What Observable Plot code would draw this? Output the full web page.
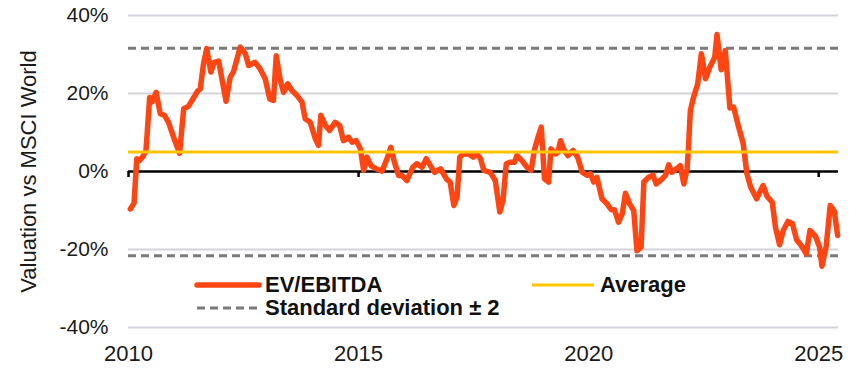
<!DOCTYPE html>
<html>
<head>
<meta charset="utf-8">
<script src="https://cdn.jsdelivr.net/npm/d3@7"></script>
<script src="https://cdn.jsdelivr.net/npm/@observablehq/plot@0.6"></script>
<style>
  body { margin: 0; background: #fff; }
  #wrap { position: relative; width: 865px; height: 373px; font-family: "Liberation Sans", Arial, sans-serif; }
  #legend { position: absolute; left: 0; top: 0; pointer-events: none; }
</style>
</head>
<body>
<div id="wrap"></div>
<script>
// ---- Data ----
const years = [
  2010.04,2010.12,2010.18,2010.24,2010.31,2010.38,2010.46,2010.51,2010.60,2010.69,2010.78,2010.87,2010.98,
  2011.11,2011.20,2011.30,2011.40,2011.50,2011.56,2011.63,2011.70,2011.79,2011.86,2011.96,
  2012.12,2012.21,2012.28,2012.43,2012.54,2012.61,2012.75,2012.86,2012.97,
  2013.07,2013.15,2013.21,2013.30,2013.37,2013.46,2013.55,2013.66,2013.77,2013.84,2013.95,
  2014.06,2014.13,2014.18,2014.28,2014.37,2014.49,2014.59,2014.67,2014.78,2014.86,2014.95,
  2015.04,2015.11,2015.18,2015.27,2015.38,2015.51,2015.62,2015.70,2015.78,2015.87,2015.94,
  2016.05,2016.18,2016.27,2016.38,2016.47,2016.56,2016.65,2016.78,2016.91,2016.99,
  2017.07,2017.14,2017.20,2017.28,2017.39,2017.49,2017.57,2017.65,2017.72,2017.86,2017.97,
  2018.07,2018.14,2018.21,2018.30,2018.39,2018.44,2018.55,2018.66,2018.75,2018.82,2018.89,2018.97,
  2019.04,2019.13,2019.18,2019.28,2019.33,2019.39,2019.47,2019.55,2019.66,2019.76,2019.86,2019.97,
  2020.04,2020.11,2020.18,2020.29,2020.40,2020.49,2020.56,2020.65,2020.73,2020.80,2020.89,2020.98,
  2021.05,2021.14,2021.20,2021.30,2021.40,2021.47,2021.56,2021.67,2021.74,2021.81,2021.91,2021.99,
  2022.07,2022.14,2022.17,2022.21,2022.28,2022.37,2022.45,2022.54,2022.63,2022.74,2022.79,2022.88,2022.97,
  2023.07,2023.15,2023.26,2023.36,2023.44,2023.52,2023.65,2023.79,2023.88,2023.99,
  2024.06,2024.15,2024.23,2024.33,2024.43,2024.52,2024.64,2024.73,2024.81,2024.93,
  2025.02,2025.07,2025.16,2025.25,2025.34,2025.41
];
const evEbitda = [
  -9.6,-8.1,3.3,2.8,3.8,5.4,19,17.8,20.3,14.8,14.4,12.6,8.8,
  4.7,16.1,16.7,18.6,20.6,21.2,27.6,31.5,25.5,28,28.3,
  18,24.2,25.5,31.9,30.2,27.2,28,26.3,23.8,
  18.6,18.2,29.7,23.3,20.3,22.5,20.8,19.5,17.8,13.5,12.6,
  8.4,6.7,14.4,11.8,10.5,12.6,11.8,7.9,8.8,7.5,7.9,
  5.8,0.3,3.7,1.5,0.7,0.1,3.3,6.2,2.4,-1,-1,
  -2.3,1.1,2,1.1,3.3,1.5,-0.2,0.7,-1.9,-2.7,
  -8.7,-6.6,3.7,4.5,4.5,3.7,4.5,3.3,0.3,-0.2,-2.3,
  -10.4,-7.4,2,2.4,2.4,4.1,2.8,1.1,0.3,5.4,8.4,11.4,
  -1.9,-2.7,5.8,4.5,4.9,7.9,5.4,4.1,5.4,3.7,-0.2,-1,
  -0.6,-2.7,-1.5,-7,-8.3,-9.8,-9.8,-13,-10.8,-5.6,-8.3,-10,
  -20.3,-19.4,-2.7,-1.5,-1,-3.2,-2.3,-1,1.7,-0.2,0.7,1.5,
  -3.2,0.7,6.2,15.6,19,22.5,30.2,23.8,26.7,29.3,35.1,26.1,31,
  16.3,16.5,11.4,7.1,-0.6,-4,-7,-3.6,-6.4,-7.9,
  -14.3,-18.8,-15.1,-12.8,-13.4,-17.5,-19.3,-21.1,-15.1,-16.6,
  -19.4,-24.3,-19.4,-8.7,-10.2,-16.4
];
const average = 5.0;
const sdBands = [31.6, -21.6];
const yTicks = [-40, -20, 0, 20, 40];
const xTicks = [2010, 2015, 2020, 2025];
const seriesLabels = ["EV/EBITDA", "Average", "Standard deviation \u00b1 2"];
const yTitle = "Valuation vs MSCI World";

const ORANGE = "#ff4612";
const YELLOW = "#ffc600";
const GREY = "#7a7a7a";

const series = years.map((x, i) => ({ x, v: evEbitda[i] }));
const FONT = "'Liberation Sans', Arial, sans-serif";

const chart = Plot.plot({
  width: 865,
  height: 373,
  marginLeft: 128,
  marginRight: 27,
  marginTop: 15,
  marginBottom: 46,
  style: { fontFamily: FONT, color: "#1a1a1a", background: "white", overflow: "visible" },
  x: { domain: [2010, 2025.43] },
  y: { domain: [-40, 40] },
  marks: [
    Plot.ruleY(yTicks.filter(d => d !== 0), { stroke: "#d3d3dc", strokeWidth: 2 }),
    Plot.ruleY(sdBands, { stroke: GREY, strokeWidth: 3, strokeDasharray: "8,5" }),
    Plot.ruleY([0], { stroke: "#000", strokeWidth: 2.5 }),
    Plot.ruleX(xTicks, { x: d => d, y1: 0, y2: 0, insetBottom: -6, stroke: "#000", strokeWidth: 2.5 }),
    Plot.line(series, { x: "x", y: "v", stroke: ORANGE, strokeWidth: 5.5, strokeLinejoin: "round", strokeLinecap: "round" }),
    Plot.ruleY([average], { stroke: YELLOW, strokeWidth: 3 }),
    Plot.axisX({ ticks: xTicks, tickFormat: "d", tickSize: 0, tickPadding: 18, fontSize: 22, label: null }),
    Plot.axisY({ ticks: yTicks, tickFormat: d => d + "%", tickSize: 0, tickPadding: 20, fontSize: 21, label: null }),
    Plot.axisY({ ticks: [], label: yTitle, labelAnchor: "center", labelOffset: 108, labelArrow: "none", fontSize: 22 })
  ]
});

const wrap = document.getElementById("wrap");
wrap.appendChild(chart);

// Legend overlay (inside the plot area, as in the reference)
const ns = "http://www.w3.org/2000/svg";
const lg = document.createElementNS(ns, "svg");
lg.setAttribute("id", "legend");
lg.setAttribute("width", 865);
lg.setAttribute("height", 373);
const items = [
  { label: seriesLabels[0], x: 197, y: 285, color: ORANGE, w: 5.5, dash: null, cap: "round" },
  { label: seriesLabels[1], x: 532, y: 285, color: YELLOW, w: 3, dash: null, cap: "butt" },
  { label: seriesLabels[2], x: 197, y: 308, color: GREY, w: 3, dash: "8,5", cap: "butt" }
];
for (const it of items) {
  const l = document.createElementNS(ns, "line");
  l.setAttribute("x1", it.x); l.setAttribute("x2", it.x + 62);
  l.setAttribute("y1", it.y); l.setAttribute("y2", it.y);
  l.setAttribute("stroke", it.color); l.setAttribute("stroke-width", it.w);
  l.setAttribute("stroke-linecap", it.cap);
  if (it.dash) l.setAttribute("stroke-dasharray", it.dash);
  lg.appendChild(l);
  const t = document.createElementNS(ns, "text");
  t.setAttribute("x", it.x + 68); t.setAttribute("y", it.y - 1);
  t.setAttribute("dominant-baseline", "central");
  t.setAttribute("font-family", FONT);
  t.setAttribute("font-weight", "bold");
  t.setAttribute("font-size", 22);
  t.setAttribute("fill", "#111");
  t.textContent = it.label;
  lg.appendChild(t);
}
wrap.appendChild(lg);
</script>
</body>
</html>
